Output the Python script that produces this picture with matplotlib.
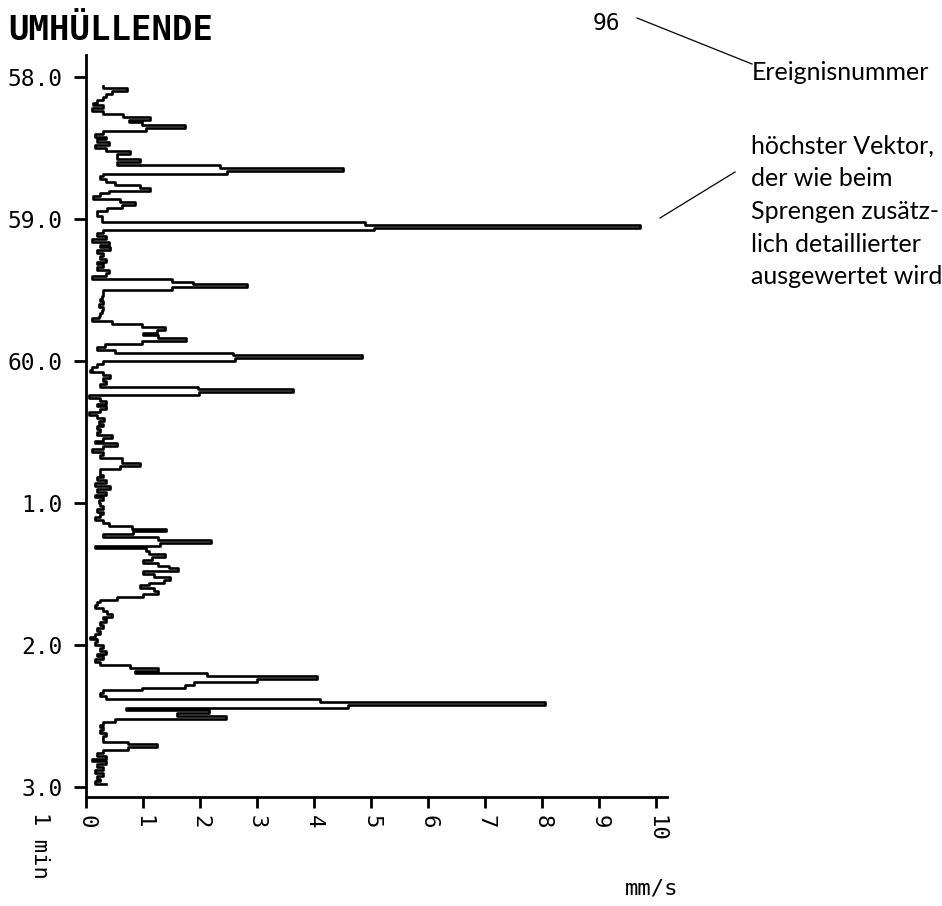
import numpy as np
import matplotlib
matplotlib.use("Agg")
import matplotlib.pyplot as plt
from matplotlib.lines import Line2D

# Umhüllende (mm/s), abgetastet alle 0.02 min, Block je Minute
dt = 0.02
v58 = [0.3, 0.72, 0.45, 0.35, 0.3, 0.2, 0.12, 0.3, 0.1, 0.3,
       0.65, 1.12, 0.75, 0.98, 1.74, 1.06, 0.3, 0.15, 0.35, 0.2,
       0.4, 0.15, 0.35, 0.77, 0.55, 0.55, 0.95, 0.55, 2.35, 4.5,
       2.47, 0.3, 0.25, 0.35, 0.5, 0.95, 1.12, 0.4, 0.25, 0.13,
       0.6, 0.86, 0.63, 0.36, 0.19, 0.2, 0.28]
v59 = [0.28, 4.9, 9.72, 5.05, 0.3, 0.2, 0.35, 0.1, 0.4, 0.25,
       0.42, 0.2, 0.3, 0.25, 0.35, 0.2, 0.3, 0.2, 0.4, 0.35,
       0.1, 1.5, 1.88, 2.82, 1.5, 0.3, 0.3, 0.28, 0.25, 0.3,
       0.22, 0.3, 0.28, 0.25, 0.22, 0.1, 0.45, 0.98, 1.39, 1.24,
       1.0, 1.27, 1.75, 0.98, 0.33, 0.2, 0.5, 2.58, 4.84, 2.62]
v60 = [0.3, 0.2, 0.1, 0.07, 0.3, 0.42, 0.3, 0.35, 0.25, 1.96,
       3.63, 1.98, 0.05, 0.25, 0.35, 0.2, 0.35, 0.25, 0.05, 0.2,
       0.32, 0.22, 0.3, 0.2, 0.25, 0.2, 0.45, 0.3, 0.15, 0.54,
       0.3, 0.1, 0.3, 0.25, 0.63, 0.63, 0.95, 0.6, 0.25, 0.25,
       0.3, 0.2, 0.35, 0.15, 0.42, 0.2, 0.35, 0.15, 0.3, 0.22]
v01 = [0.25, 0.3, 0.2, 0.3, 0.25, 0.15, 0.3, 0.4, 0.8, 1.4,
       0.82, 0.3, 1.27, 2.2, 1.3, 0.16, 1.06, 1.1, 1.39, 1.15,
       1.0, 1.27, 1.45, 1.62, 1.0, 1.2, 1.47, 1.36, 1.1, 0.95,
       1.2, 1.27, 1.0, 0.54, 0.25, 0.2, 0.16, 0.3, 0.36, 0.45,
       0.3, 0.35, 0.25, 0.3, 0.2, 0.25, 0.15, 0.07, 0.2, 0.15]
v02 = [0.3, 0.25, 0.35, 0.2, 0.3, 0.15, 0.25, 0.77, 1.27, 0.86,
       2.12, 4.05, 3.0, 1.9, 1.74, 0.98, 0.3, 0.25, 0.35, 4.1,
       8.05, 4.6, 0.7, 2.15, 1.6, 2.46, 0.5, 0.3, 0.25, 0.3,
       0.25, 0.35, 0.3, 0.3, 0.74, 1.24, 0.74, 0.3, 0.2, 0.35,
       0.1, 0.35, 0.2, 0.3, 0.15, 0.3, 0.2, 0.25, 0.15, 0.35]
block_starts = [0.06, 1.0, 2.0, 3.0, 4.0]

y_labels = ["58.0", "59.0", "60.0", "1.0", "2.0", "3.0"]
x_labels = [str(i) for i in range(11)]

blocks = [v58, v59, v60, v01, v02]
times = np.concatenate([s + dt * np.arange(len(b)) for s, b in zip(block_starts, blocks)])
values = np.concatenate(blocks)

mono = "DejaVu Sans Mono"
note_font = "Lato"

fig = plt.figure(figsize=(9.42, 9.06), dpi=100)
ax = fig.add_axes([86 / 942, 109 / 906, 581 / 942, 742 / 906])

ax.plot(values, times, drawstyle="steps-pre", color="black", lw=1.9)

ax.set_xlim(0, 10.19)
ax.set_ylim(5.07, -0.155)
for s in ["top", "right"]:
    ax.spines[s].set_visible(False)
for s in ["left", "bottom"]:
    ax.spines[s].set_linewidth(2)

ax.set_xticks(range(11))
ax.set_xticklabels(x_labels, rotation=-90, fontfamily=mono, fontsize=16)
ax.set_yticks(range(6))
ax.set_yticklabels(y_labels, fontfamily=mono, fontsize=16.5)
ax.tick_params(axis="x", length=8, width=2, pad=5)
ax.tick_params(axis="y", length=9, width=2, pad=8)

# Texte
fig.text(8 / 942, 1 - 31 / 906, "UMHÜLLENDE", fontfamily=mono, fontweight="bold",
         fontsize=24.5, va="center", ha="left")
fig.text(606 / 942, 1 - 24 / 906, "96", fontfamily=mono, fontsize=16.5, va="center", ha="center")
fig.text(40 / 942, 1 - 812 / 906, "1 min", fontfamily=mono, fontsize=16,
         rotation=-90, va="top", ha="center")
fig.text(652 / 942, 1 - 888 / 906, "mm/s", fontfamily=mono, fontsize=16, va="center", ha="center")

fig.text(752 / 942, 1 - 72 / 906, "Ereignisnummer", fontfamily=note_font, fontsize=18,
         va="center", ha="left")
fig.text(751 / 942, 1 - 135 / 906,
         "höchster Vektor,\nder wie beim\nSprengen zusätz-\nlich detaillierter\nausgewertet wird",
         fontfamily=note_font, fontsize=18, va="top", ha="left", linespacing=1.5)

# Hinweislinien
fig.add_artist(Line2D([637 / 942, 752 / 942], [1 - 18 / 906, 1 - 64 / 906],
                      transform=fig.transFigure, color="black", lw=0.9))
fig.add_artist(Line2D([660 / 942, 735 / 942], [1 - 218 / 906, 1 - 172 / 906],
                      transform=fig.transFigure, color="black", lw=0.9))

fig.savefig("out.png", dpi=100)
